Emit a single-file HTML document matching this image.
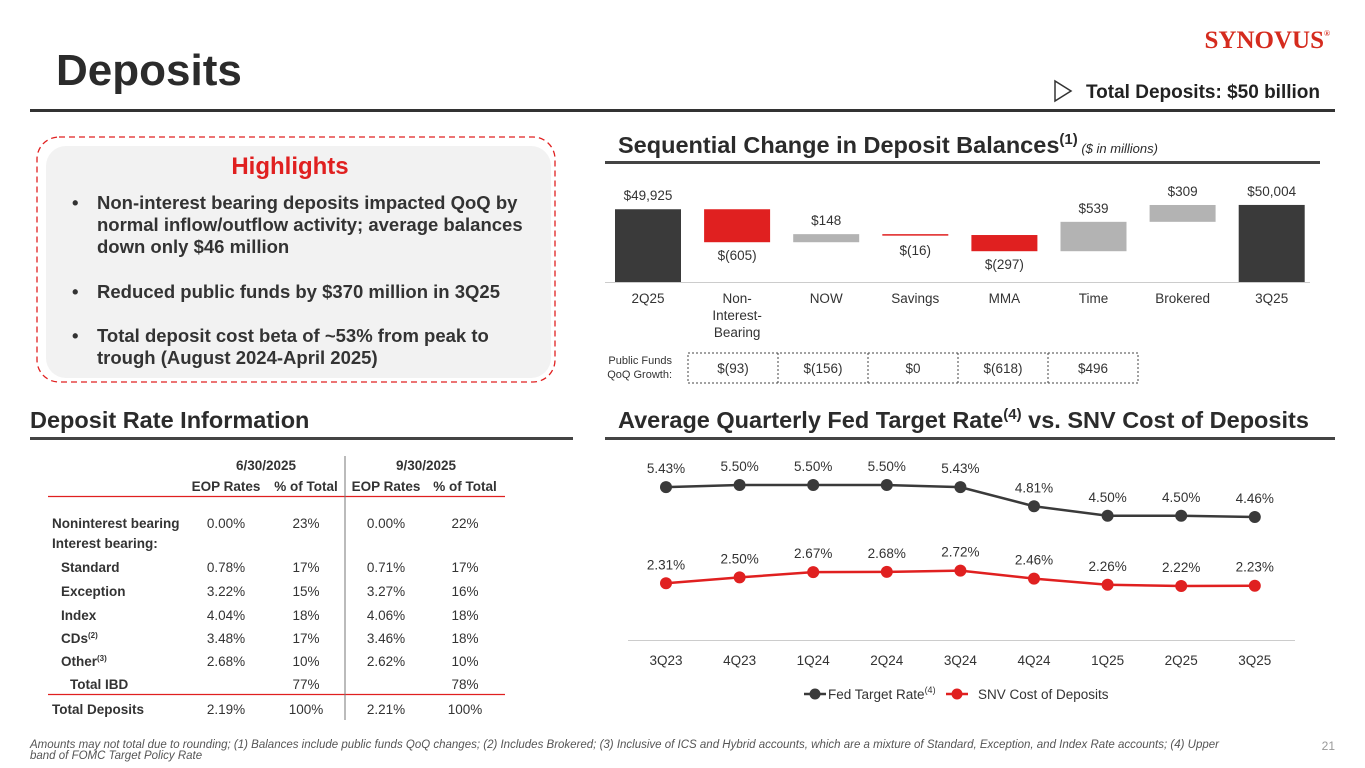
<!DOCTYPE html>
<html><head><meta charset="utf-8"><style>
body{margin:0;background:#fff;}
svg{display:block;font-family:"Liberation Sans",sans-serif;}
</style></head><body>
<svg id="page" width="1365" height="768" viewBox="0 0 1365 768" xmlns="http://www.w3.org/2000/svg">
<text x="56" y="85" font-size="44" font-weight="bold" fill="#2b2b2b">Deposits</text>
<text x="1330" y="48" text-anchor="end" font-family="Liberation Serif,serif" font-size="25" font-weight="bold" fill="#d52b1e">SYNOVUS<tspan font-size="8" dy="-12">®</tspan></text>
<rect x="30" y="109" width="1305" height="3" fill="#333"/>
<polygon points="1055,81 1055,101 1071,91" fill="none" stroke="#333" stroke-width="1.5"/>
<text x="1320" y="98" text-anchor="end" font-size="19" font-weight="bold" fill="#222">Total Deposits: $50 billion</text>

<rect x="37" y="137" width="518" height="245" rx="22" fill="none" stroke="#e02020" stroke-width="1.3" stroke-dasharray="6,4"/>
<rect x="46" y="146" width="505" height="232" rx="20" fill="#f2f2f2"/>
<text x="290" y="174" text-anchor="middle" font-size="24" font-weight="bold" fill="#e02020">Highlights</text>
<g font-size="18.5" font-weight="bold" fill="#333">
<text x="72" y="209">•</text><text x="97" y="209">Non-interest bearing deposits impacted QoQ by</text>
<text x="97" y="231">normal inflow/outflow activity; average balances</text>
<text x="97" y="253">down only $46 million</text>
<text x="72" y="298">•</text><text x="97" y="298">Reduced public funds by $370 million in 3Q25</text>
<text x="72" y="342">•</text><text x="97" y="342">Total deposit cost beta of ~53% from peak to</text>
<text x="97" y="364">trough (August 2024-April 2025)</text>
</g>

<text x="618" y="153" font-size="23.5" font-weight="bold" fill="#2b2b2b">Sequential Change in Deposit Balances<tspan font-size="15" dy="-9">(1)</tspan><tspan font-size="13" font-weight="normal" font-style="italic" dy="9"> ($ in millions)</tspan></text>
<rect x="605" y="161" width="715" height="3" fill="#444"/>
<g id="wf"></g>

<text x="30" y="428" font-size="23.5" font-weight="bold" fill="#2b2b2b">Deposit Rate Information</text>
<rect x="30" y="437" width="543" height="3" fill="#444"/>
<g id="tbl"></g>

<text x="618" y="428" font-size="23.5" font-weight="bold" fill="#2b2b2b">Average Quarterly Fed Target Rate<tspan font-size="15" dy="-9">(4)</tspan><tspan dy="9"> vs. SNV Cost of Deposits</tspan></text>
<rect x="605" y="437" width="730" height="3" fill="#444"/>
<g id="lc"></g>

<text x="30" y="748" font-size="11.5" font-style="italic" fill="#555">Amounts may not total due to rounding; (1) Balances include public funds QoQ changes; (2) Includes Brokered; (3) Inclusive of ICS and Hybrid accounts, which are a mixture of Standard, Exception, and Index Rate accounts; (4) Upper</text>
<text x="30" y="759" font-size="11.5" font-style="italic" fill="#555">band of FOMC Target Policy Rate</text>
<text x="1335" y="750" text-anchor="end" font-size="12" fill="#999">21</text>
</svg>
<script>
const NS="http://www.w3.org/2000/svg";
function mk(p,tag,a,txt){const e=document.createElementNS(NS,tag);for(const k in a)e.setAttribute(k,a[k]);if(txt!==undefined)e.textContent=txt;p.appendChild(e);return e;}

// ---- Waterfall data ----
const wfCats=["2Q25","Non-|Interest-|Bearing","NOW","Savings","MMA","Time","Brokered","3Q25"];
const wfValues=[49925,-605,148,-16,-297,539,309,50004];
const wfLabels=["$49,925","$(605)","$148","$(16)","$(297)","$539","$309","$50,004"];
const pfLabels=["$(93)","$(156)","$0","$(618)","$496"];

const wf=document.getElementById('wf');
const wfBase=48590, wfK=0.0545, wfY0=282;
const wy=v=>wfY0-(v-wfBase)*wfK;
const wx=i=>648+i*89.1;
let run=0;
wfValues.forEach((v,i)=>{
  let top,bot,fill;
  if(i===0||i===wfValues.length-1){top=wy(v);bot=wfY0;fill="#3a3a3a";run=v;}
  else{const a=run,b=run+v;top=wy(Math.max(a,b));bot=wy(Math.min(a,b));fill=v<0?"#e02020":"#b3b3b3";run=b;}
  const h=Math.max(bot-top,1.5);
  const r=mk(wf,'rect',{x:wx(i)-33,y:top,width:66,height:h,fill:fill});
  
  
  const ly=(v<0&&i>0&&i<wfValues.length-1)?bot+ (i===3?20:18):top-9;
  const t=mk(wf,'text',{x:wx(i),y:ly,'text-anchor':'middle','font-size':13.5,fill:'#333'},wfLabels[i]);
  
  
  wfCats[i].split('|').forEach((ln,j)=>{
    const c=mk(wf,'text',{x:wx(i),y:303+j*17,'text-anchor':'middle','font-size':13.5,fill:'#333'},ln);
    
    
  });
});
mk(wf,'line',{x1:605,y1:282.5,x2:1310,y2:282.5,stroke:'#ccc','stroke-width':1});
mk(wf,'text',{x:672,y:364,'text-anchor':'end','font-size':11,fill:'#333'},"Public Funds");
mk(wf,'text',{x:672,y:378,'text-anchor':'end','font-size':11,fill:'#333'},"QoQ Growth:");
mk(wf,'rect',{x:688,y:353,width:450,height:30,fill:'none',stroke:'#444','stroke-dasharray':'2,2'});
pfLabels.forEach((l,j)=>{
  if(j>0)mk(wf,'line',{x1:688+j*90,y1:353,x2:688+j*90,y2:383,stroke:'#444','stroke-dasharray':'2,2'});
  const t=mk(wf,'text',{x:733+j*90,y:373,'text-anchor':'middle','font-size':13.5,fill:'#333'},l);
  
  
});

// ---- Table ----
const tblRows=["Noninterest bearing","Interest bearing:","Standard","Exception","Index","CDs","Other","Total IBD","Total Deposits"];
const eop0630=["0.00%","","0.78%","3.22%","4.04%","3.48%","2.68%","","2.19%"];
const pct0630=["23%","","17%","15%","18%","17%","10%","77%","100%"];
const eop0930=["0.00%","","0.71%","3.27%","4.06%","3.46%","2.62%","","2.21%"];
const pct0930=["22%","","17%","16%","18%","18%","10%","78%","100%"];
const tbl=document.getElementById('tbl');
const rowY=[528,548,572,596,620,643,666,689,714];
const indent=[0,0,9,9,9,9,9,18,0];
const sup=["","","","","","(2)","(3)","",""];
mk(tbl,'text',{x:266,y:470,'text-anchor':'middle','font-size':13.5,'font-weight':'bold',fill:'#333'},"6/30/2025");
mk(tbl,'text',{x:426,y:470,'text-anchor':'middle','font-size':13.5,'font-weight':'bold',fill:'#333'},"9/30/2025");
[["EOP Rates",226],["% of Total",306],["EOP Rates",386],["% of Total",465]].forEach(h=>mk(tbl,'text',{x:h[1],y:491,'text-anchor':'middle','font-size':13.5,'font-weight':'bold',fill:'#333'},h[0]));
mk(tbl,'line',{x1:48,y1:496.5,x2:505,y2:496.5,stroke:'#e02020','stroke-width':1.3});
mk(tbl,'line',{x1:48,y1:694.5,x2:505,y2:694.5,stroke:'#e02020','stroke-width':1.3});
mk(tbl,'line',{x1:345,y1:456,x2:345,y2:720,stroke:'#777','stroke-width':1});
tblRows.forEach((r,i)=>{
  const t=mk(tbl,'text',{x:52+indent[i],y:rowY[i],'font-size':13.5,'font-weight':'bold',fill:'#333'},r);
  if(sup[i])mk(t,'tspan',{'font-size':8,dy:-5},sup[i]);
  
  
  [[eop0630,226],[pct0630,306],[eop0930,386],[pct0930,465]].forEach(c=>{
    if(c[0][i])mk(tbl,'text',{x:c[1],y:rowY[i],'text-anchor':'middle','font-size':13.5,fill:'#333'},c[0][i]);
  });
});

// ---- Line chart ----
const quarters=["3Q23","4Q23","1Q24","2Q24","3Q24","4Q24","1Q25","2Q25","3Q25"];
const fedRate=[5.43,5.50,5.50,5.50,5.43,4.81,4.50,4.50,4.46];
const snvCost=[2.31,2.50,2.67,2.68,2.72,2.46,2.26,2.22,2.23];
const lc=document.getElementById('lc');
const lx=i=>666+i*73.6;
const ly=v=>485+(5.50-v)*30.8;
mk(lc,'line',{x1:628,y1:640.5,x2:1295,y2:640.5,stroke:'#ccc','stroke-width':1});
quarters.forEach((q,i)=>{
  const t=mk(lc,'text',{x:lx(i),y:665,'text-anchor':'middle','font-size':13.5,fill:'#333'},q);
  
  
});
function series(vals,color,name){
  mk(lc,'polyline',{points:vals.map((v,i)=>lx(i)+','+ly(v)).join(' '),fill:'none',stroke:color,'stroke-width':2.5});
  vals.forEach((v,i)=>{
    const c=mk(lc,'circle',{cx:lx(i),cy:ly(v),r:6,fill:color});
    
    
    const t=mk(lc,'text',{x:lx(i),y:ly(v)-14,'text-anchor':'middle','font-size':13.5,fill:'#333'},v.toFixed(2)+'%');
    
    
  });
}
series(fedRate,'#3a3a3a','fed-rate');
series(snvCost,'#e02020','snv-cost');
// legend
mk(lc,'line',{x1:804,y1:694,x2:826,y2:694,stroke:'#3a3a3a','stroke-width':2.5});
mk(lc,'circle',{cx:815,cy:694,r:5.5,fill:'#3a3a3a'});
const l1=mk(lc,'text',{x:828,y:699,'font-size':13.5,fill:'#333'},"Fed Target Rate");
mk(l1,'tspan',{'font-size':9,dy:-6},"(4)");
mk(lc,'line',{x1:946,y1:694,x2:968,y2:694,stroke:'#e02020','stroke-width':2.5});
mk(lc,'circle',{cx:957,cy:694,r:5.5,fill:'#e02020'});
mk(lc,'text',{x:978,y:699,'font-size':13.5,fill:'#333'},"SNV Cost of Deposits");
</script>
</body></html>
